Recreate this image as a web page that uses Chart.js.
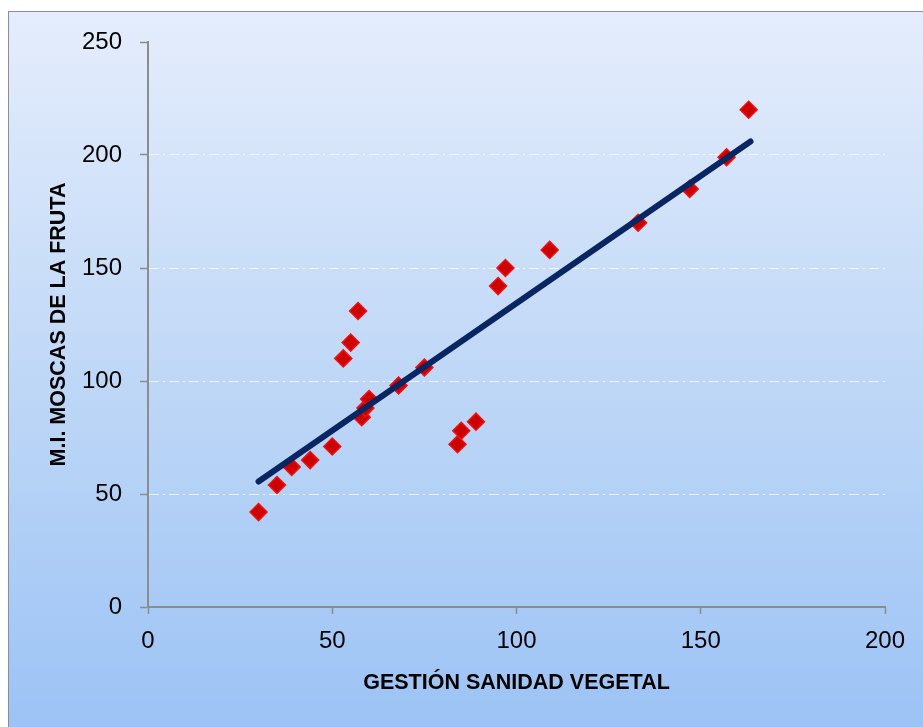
<!DOCTYPE html>
<html>
<head>
<meta charset="utf-8">
<script src="https://cdn.jsdelivr.net/npm/chart.js@4"></script>
<style>
    html, body { margin: 0; padding: 0; background: #fff; }
    #wrap { width: 923px; height: 727px; }
</style>
</head>
<body>
<div id="wrap"><canvas id="scatterChart"></canvas></div>
<script>
// datos
var gestion = [30, 35, 39, 44, 50, 53, 55, 57, 58, 59, 60, 68, 75, 84, 85, 89, 95, 97, 109, 133, 147, 157, 163];
var moscas = [42, 54, 62, 65, 71, 110, 117, 131, 84, 88, 92, 98, 106, 72, 78, 82, 142, 150, 158, 170, 185, 199, 220];

// línea de tendencia (extremos)
var trendX = [30, 163.5];
var trendY = [55.5, 206];

var xTicks = [0, 50, 100, 150, 200];
var yTicks = [0, 50, 100, 150, 200, 250];

var points = [];
for (var i = 0; i < gestion.length; i++) {
    points.push({x: gestion[i], y: moscas[i]});
}
var trend = [];
for (var j = 0; j < trendX.length; j++) {
    trend.push({x: trendX[j], y: trendY[j]});
}

// fondo degradado y marco
var background = {
    id: 'background',
    beforeDraw: function (chart) {
        var ctx = chart.ctx;
        var w = chart.width, h = chart.height;
        ctx.save();
        ctx.fillStyle = '#ffffff';
        ctx.fillRect(0, 0, w, h);
        var grad = ctx.createLinearGradient(0, 11, 0, h);
        grad.addColorStop(0, '#e5edfc');
        grad.addColorStop(0.5, '#c0d8f7');
        grad.addColorStop(1, '#9cc3f5');
        ctx.fillStyle = grad;
        ctx.fillRect(8, 11, w - 8, h - 11);
        ctx.strokeStyle = '#8e8e8e';
        ctx.lineWidth = 1;
        ctx.strokeRect(8.5, 11.5, w, h);
        ctx.restore();
    }
};

var tickFont = {family: 'Liberation Sans', size: 24};
var titleFont = {family: 'Liberation Sans', size: 21.5, weight: 'bold'};

new Chart(document.getElementById('scatterChart'), {
    type: 'scatter',
    data: {
        datasets: [{
            label: 'Tendencia',
            data: trend,
            showLine: true,
            borderColor: '#0a2662',
            borderWidth: 6,
            borderCapStyle: 'round',
            pointRadius: 0,
            order: 0
        }, {
            label: 'Datos',
            data: points,
            pointStyle: 'rectRot',
            pointRadius: 8.5,
            pointHoverRadius: 8.5,
            backgroundColor: '#cc0000',
            borderColor: '#f01010',
            borderWidth: 1.5,
            order: 1
        }]
    },
    options: {
        responsive: true,
        maintainAspectRatio: false,
        animation: false,
        layout: {
            padding: {top: 42, right: 38, left: 0, bottom: 0}
        },
        plugins: {
            legend: {display: false},
            tooltip: {enabled: false}
        },
        scales: {
            x: {
                type: 'linear',
                min: 0,
                max: 200,
                afterBuildTicks: function (scale) {
                    scale.ticks = xTicks.map(function (v) { return {value: v}; });
                },
                afterFit: function (scale) {
                    scale.height = 120;
                },
                ticks: {
                    font: tickFont,
                    color: '#000',
                    padding: 13,
                    maxRotation: 0
                },
                grid: {
                    drawOnChartArea: false,
                    drawTicks: true,
                    tickLength: 7,
                    tickColor: '#8c8c8c',
                    tickWidth: 1.5
                },
                border: {color: '#8c8c8c', width: 2},
                title: {
                    display: true,
                    text: 'GESTIÓN SANIDAD VEGETAL',
                    font: titleFont,
                    color: '#000',
                    padding: {bottom: 31}
                }
            },
            y: {
                type: 'linear',
                min: 0,
                max: 250,
                afterBuildTicks: function (scale) {
                    scale.ticks = yTicks.map(function (v) { return {value: v}; });
                },
                afterFit: function (scale) {
                    scale.width = 148;
                },
                ticks: {
                    font: tickFont,
                    color: '#000',
                    padding: 18
                },
                grid: {
                    color: function (c) {
                        var v = c.tick ? c.tick.value : 0;
                        return (v === 0 || v === 250) ? 'rgba(0,0,0,0)' : 'rgba(255,255,255,0.75)';
                    },
                    lineWidth: 1,
                    tickLength: 8,
                    tickColor: '#8c8c8c',
                    tickWidth: 1.5
                },
                border: {color: '#8c8c8c', width: 2, dash: [10, 4, 2, 4]},
                title: {
                    display: true,
                    text: 'M.I. MOSCAS DE LA FRUTA',
                    font: titleFont,
                    color: '#000',
                    padding: {top: 46}
                }
            }
        }
    },
    plugins: [background]
});
</script>
</body>
</html>
